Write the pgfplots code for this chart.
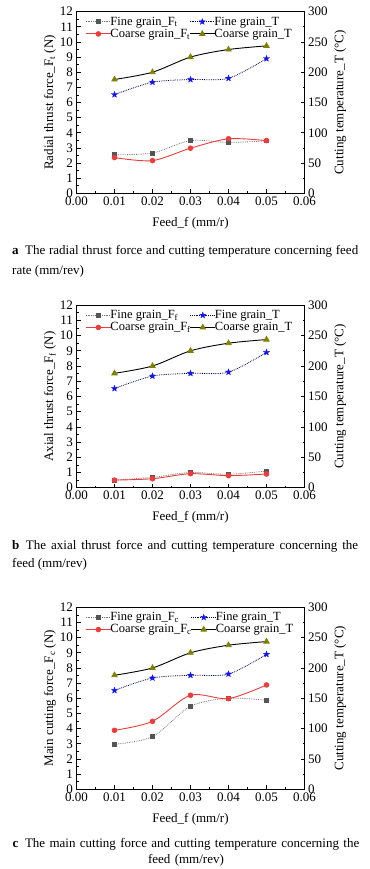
\documentclass[border=0pt]{standalone}
\usepackage{fontspec}
\setmainfont{Liberation Serif}
\usepackage{pgfplots}
\pgfplotsset{compat=1.18}
\usetikzlibrary{plotmarks}
\definecolor{cred}{RGB}{236,60,60}
\definecolor{colive}{RGB}{128,128,0}
\definecolor{cgray}{RGB}{85,85,85}
\definecolor{cblue}{RGB}{20,20,245}
\pgfdeclareplotmark{fstar}{%
  \pgfpathmoveto{\pgfpointpolar{90}{\pgfplotmarksize}}%
  \pgfpathlineto{\pgfpointpolar{126}{0.42\pgfplotmarksize}}%
  \pgfpathlineto{\pgfpointpolar{162}{\pgfplotmarksize}}%
  \pgfpathlineto{\pgfpointpolar{198}{0.42\pgfplotmarksize}}%
  \pgfpathlineto{\pgfpointpolar{234}{\pgfplotmarksize}}%
  \pgfpathlineto{\pgfpointpolar{270}{0.42\pgfplotmarksize}}%
  \pgfpathlineto{\pgfpointpolar{306}{\pgfplotmarksize}}%
  \pgfpathlineto{\pgfpointpolar{342}{0.42\pgfplotmarksize}}%
  \pgfpathlineto{\pgfpointpolar{18}{\pgfplotmarksize}}%
  \pgfpathlineto{\pgfpointpolar{54}{0.42\pgfplotmarksize}}%
  \pgfpathclose\pgfusepathqfillstroke}
\pgfplotsset{
  base/.style={scale only axis, width=228bp, xmin=0, xmax=0.06,
    font=\fontsize{13bp}{15bp}\selectfont,
    /pgf/number format/assume math mode=true,
    major tick length=4bp, minor tick length=2bp,
    every tick/.style={black, line width=0.7bp},
    axis line style={line width=0.8bp},
    tick label style={font=\fontsize{13bp}{15bp}\selectfont},
    label style={font=\fontsize{13bp}{15bp}\selectfont},
  },
  leftax/.style={base, ymin=0, ymax=12, ytick={0,1,...,12}, minor y tick num=1,
    xtick={0,0.01,0.02,0.03,0.04,0.05,0.06}, minor x tick num=1,
    scaled x ticks=false,
    xticklabel style={/pgf/number format/.cd, fixed, fixed zerofill, precision=2},
    xtick pos=bottom, ytick pos=left,
    xlabel={Feed\_f (mm/r)},
    xlabel style={at={(axis description cs:0.5,-0.165)}, anchor=center},
    ylabel style={at={(axis description cs:-0.116,0.5)}, anchor=center},
  },
  rightax/.style={base, ymin=0, ymax=300, ytick={0,50,...,300}, minor y tick num=1,
    axis y line*=right, axis x line=none,
    ylabel={Cutting temperature\_T (\textdegree C)},
    ylabel style={at={(axis description cs:1.157,0.5)}, anchor=center},
    legend columns=2,
    legend cell align=left,
    legend style={draw=none, fill=none, at={(axis description cs:0.025,0.99)}, anchor=north west,
      font=\fontsize{12.5bp}{14bp}\selectfont, column sep=-2bp, row sep=0bp,
      nodes={inner sep=1.2bp}},
    legend image code/.code={\draw[mark repeat=2,mark phase=2,##1] plot coordinates {(0bp,0bp)(12.5bp,0bp)(25bp,0bp)};},
  },
  fineF/.style={color=cgray!80, densely dotted, line width=0.8bp, smooth, tension=0.5,
    mark=square*, mark size=1.9bp, mark options={solid, fill=cgray, draw=cgray}},
  coarseF/.style={color=cred, solid, line width=0.9bp, smooth, tension=0.5,
    mark=*, mark size=2.3bp, mark options={solid, fill=cred, draw=cred}},
  fineT/.style={color=black!70!blue, densely dotted, line width=0.8bp, smooth, tension=0.5,
    mark=fstar, mark size=3.2bp, mark options={solid, fill=cblue, draw=cblue, line width=0.3bp}},
  coarseT/.style={color=black, solid, line width=0.9bp, smooth, tension=0.5,
    mark=triangle*, mark size=3bp, mark options={solid, fill=colive, draw=colive}},
}
\pgfplotstableread{
x T
0.01 163
0.02 183.5
0.03 188
0.04 190
0.05 222.5
}\fineT
\pgfplotstableread{
x T
0.01 188
0.02 200
0.03 225
0.04 237.5
0.05 243.5
}\coarseT
\begin{document}
\begin{tikzpicture}[x=1bp,y=1bp]
\useasboundingbox (0,0) rectangle (369,869);
% ---------- panel a ----------
\begin{axis}[leftax, at={(76.5bp,675.7bp)}, anchor=south west, height=181.6bp,
  ylabel={Radial thrust force\_F\textsubscript{t} (N)}]
\addplot[fineF] coordinates {(0.01,2.55) (0.02,2.66) (0.03,3.48) (0.04,3.36) (0.05,3.46)};
\addplot[coarseF] coordinates {(0.01,2.36) (0.02,2.16) (0.03,2.98) (0.04,3.6) (0.05,3.48)};
\end{axis}
\begin{axis}[rightax, at={(76.5bp,675.7bp)}, anchor=south west, height=181.6bp]
\addlegendimage{fineF}\addlegendentry{Fine grain\_F\textsubscript{t}}
\addplot[fineT] table[x=x,y=T] {\fineT};\addlegendentry{Fine grain\_T}
\addlegendimage{coarseF}\addlegendentry{Coarse grain\_F\textsubscript{t}}
\addplot[coarseT] table[x=x,y=T] {\coarseT};\addlegendentry{Coarse grain\_T}
\end{axis}
\node[anchor=north west, text width=346bp, align=justify, inner sep=0pt,
  font=\fontsize{13bp}{20bp}\selectfont] at (12,624)
  {\textbf{a}\enspace The radial thrust force and cutting temperature concerning feed rate (mm/rev)};
% ---------- panel b ----------
\begin{axis}[leftax, at={(76.5bp,381.3bp)}, anchor=south west, height=182.5bp,
  ylabel={Axial thrust force\_F\textsubscript{f} (N)}]
\addplot[fineF] coordinates {(0.01,0.5) (0.02,0.68) (0.03,1.0) (0.04,0.88) (0.05,1.1)};
\addplot[coarseF] coordinates {(0.01,0.5) (0.02,0.59) (0.03,0.92) (0.04,0.79) (0.05,0.9)};
\end{axis}
\begin{axis}[rightax, at={(76.5bp,381.3bp)}, anchor=south west, height=182.5bp]
\addlegendimage{fineF}\addlegendentry{Fine grain\_F\textsubscript{f}}
\addplot[fineT] table[x=x,y=T] {\fineT};\addlegendentry{Fine grain\_T}
\addlegendimage{coarseF}\addlegendentry{Coarse grain\_F\textsubscript{f}}
\addplot[coarseT] table[x=x,y=T] {\coarseT};\addlegendentry{Coarse grain\_T}
\end{axis}
\node[anchor=north west, text width=346bp, align=justify, inner sep=0pt,
  font=\fontsize{13bp}{18bp}\selectfont] at (12,329)
  {\textbf{b}\enspace The axial thrust force and cutting temperature concerning the feed (mm/rev)};
% ---------- panel c ----------
\begin{axis}[leftax, at={(76.5bp,79.7bp)}, anchor=south west, height=182bp,
  ylabel={Main cutting force\_F\textsubscript{c} (N)}]
\addplot[fineF] coordinates {(0.01,2.97) (0.02,3.47) (0.03,5.47) (0.04,6.0) (0.05,5.87)};
\addplot[coarseF] coordinates {(0.01,3.89) (0.02,4.48) (0.03,6.2) (0.04,5.98) (0.05,6.88)};
\end{axis}
\begin{axis}[rightax, at={(76.5bp,79.7bp)}, anchor=south west, height=182bp]
\addlegendimage{fineF}\addlegendentry{Fine grain\_F\textsubscript{c}}
\addplot[fineT] table[x=x,y=T] {\fineT};\addlegendentry{Fine grain\_T}
\addlegendimage{coarseF}\addlegendentry{Coarse grain\_F\textsubscript{c}}
\addplot[coarseT] table[x=x,y=T] {\coarseT};\addlegendentry{Coarse grain\_T}
\end{axis}
\node[anchor=north, text width=350bp, align=center, inner sep=0pt,
  font=\fontsize{13bp}{16bp}\selectfont] at (186,31)
  {\textbf{c}\enspace The main cutting force and cutting temperature concerning the\\ feed (mm/rev)};
\end{tikzpicture}
\end{document}
